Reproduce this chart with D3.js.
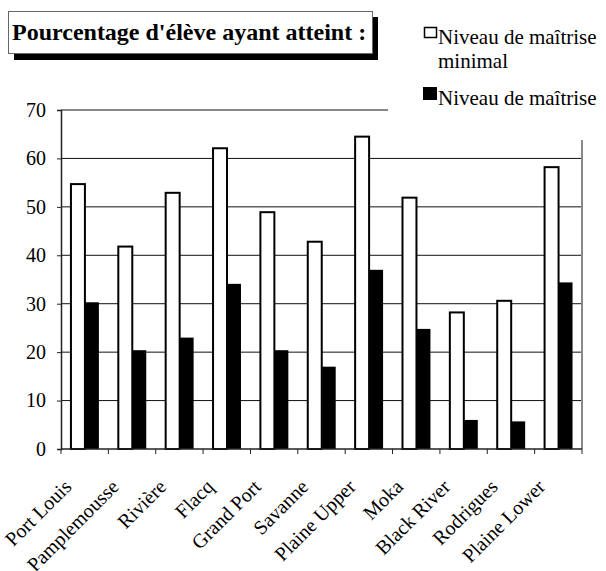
<!DOCTYPE html>
<html>
<head>
<meta charset="utf-8">
<title>Pourcentage d'élève ayant atteint</title>
<script src="https://cdn.jsdelivr.net/npm/d3@7"></script>
<style>
  body { margin: 0; background: #fff; }
</style>
</head>
<body>
<script>
// data
var districts = ["Port Louis", "Pamplemousse", "Rivière", "Flacq", "Grand Port", "Savanne",
                 "Plaine Upper", "Moka", "Black River", "Rodrigues", "Plaine Lower"];
var minimal = [54.7, 41.8, 52.9, 62.1, 48.9, 42.8, 64.5, 51.9, 28.2, 30.6, 58.2];
var maitrise = [30.3, 20.4, 23.0, 34.1, 20.4, 17.0, 37.0, 24.8, 6.0, 5.7, 34.4];
var yTicks = [0, 10, 20, 30, 40, 50, 60, 70];
var seriesNames = ["Niveau de maîtrise minimal", "Niveau de maîtrise"];

var W = 606, H = 571;
// single family name only
var serif = "'Liberation Serif'";
// plot area (named so they don't clash with window.top)
var plotL = 61, plotR = 582, plotT = 110, plotB = 449;

// put the serif font on a text, both as attribute and inline style
function serifText(sel, size) {
  return sel.attr("font-family", "Liberation Serif")
    .attr("font-size", size)
    .style("font-family", serif)
    .style("font-size", size + "px");
}

var svg = d3.select("body").append("svg")
  .attr("width", W)
  .attr("height", H);

var x = d3.scaleBand().domain(districts).range([plotL, plotR]).padding(0);
var sub = d3.scaleBand().domain([0, 1])
  .range([x.bandwidth() * 0.21, x.bandwidth() * 0.8]).padding(0);
var y = d3.scaleLinear().domain([0, 70]).range([plotB, plotT]);

// gridlines
svg.append("g")
  .selectAll("line")
  .data(yTicks.filter(function(d){ return d > 0 && d < 70; }))
  .join("line")
    .attr("x1", plotL).attr("x2", plotR)
    .attr("y1", function(d){ return y(d); })
    .attr("y2", function(d){ return y(d); })
    .attr("stroke", "#111")
    .attr("stroke-width", 1);

// plot frame (top + right), gray
svg.append("line")
  .attr("x1", plotL).attr("x2", plotR)
  .attr("y1", y(70)).attr("y2", y(70))
  .attr("stroke", "#888").attr("stroke-width", 2);
svg.append("line")
  .attr("x1", plotR).attr("x2", plotR)
  .attr("y1", y(70)).attr("y2", y(0))
  .attr("stroke", "#888").attr("stroke-width", 2);

// bars
var groups = svg.append("g")
  .selectAll("g")
  .data(districts)
  .join("g")
    .attr("transform", function(d){ return "translate(" + x(d) + ",0)"; });

groups.append("rect")
  .attr("x", sub(0))
  .attr("width", sub.bandwidth())
  .attr("y", function(d, i){ return y(minimal[i]); })
  .attr("height", function(d, i){ return y(0) - y(minimal[i]); })
  .attr("fill", "#fff")
  .attr("stroke", "#000")
  .attr("stroke-width", 2);

groups.append("rect")
  .attr("x", sub(1))
  .attr("width", sub.bandwidth())
  .attr("y", function(d, i){ return y(maitrise[i]); })
  .attr("height", function(d, i){ return y(0) - y(maitrise[i]); })
  .attr("fill", "#000");

// y axis
var yAxis = svg.append("g")
  .attr("transform", "translate(" + plotL + ",0)")
  .call(d3.axisLeft(y).tickValues(yTicks).tickSize(4).tickPadding(11));
yAxis.attr("font-family", "Liberation Serif").attr("font-size", 20);
yAxis.select(".domain").attr("stroke", "#222").attr("stroke-width", 1.5);
yAxis.selectAll(".tick line").attr("stroke", "#222");
serifText(yAxis.selectAll("text"), 20).attr("fill", "#000");

// x axis: ticks at category boundaries
var xAxis = svg.append("g")
  .attr("transform", "translate(0," + plotB + ")");
xAxis.append("line")
  .attr("x1", plotL).attr("x2", plotR)
  .attr("stroke", "#222").attr("stroke-width", 1.5);
xAxis.selectAll(".bt")
  .data(districts.concat(["end"]))
  .join("line")
    .attr("class", "bt")
    .attr("x1", function(d, i){ return plotL + i * x.step(); })
    .attr("x2", function(d, i){ return plotL + i * x.step(); })
    .attr("y1", 0).attr("y2", 5)
    .attr("stroke", "#222");

serifText(xAxis.selectAll(".lab")
  .data(districts)
  .join("text")
    .attr("class", "lab")
    .attr("text-anchor", "end")
    .attr("transform", function(d){
      return "translate(" + (x(d) + x.bandwidth() / 2 - 12) + ",39) rotate(-45)";
    })
    .text(function(d){ return d; }), 20);

// legend (white background hides top-right of frame)
var legend = svg.append("g");
legend.append("rect")
  .attr("x", 388).attr("y", 0)
  .attr("width", W - 388).attr("height", 140)
  .attr("fill", "#fff");
legend.append("rect")
  .attr("x", 424.5).attr("y", 27.5).attr("width", 12).attr("height", 10)
  .attr("fill", "#fff").attr("stroke", "#000").attr("stroke-width", 1.5);
serifText(legend.append("text").attr("x", 438).attr("y", 44), 21)
  .text("Niveau de maîtrise");
serifText(legend.append("text").attr("x", 438).attr("y", 68), 21)
  .text("minimal");
legend.append("rect")
  .attr("x", 423).attr("y", 87).attr("width", 14).attr("height", 13)
  .attr("fill", "#000");
serifText(legend.append("text").attr("x", 438).attr("y", 105), 21)
  .text(seriesNames[1]);

// title box with drop shadow
var title = svg.append("g");
title.append("rect")
  .attr("x", 14).attr("y", 17).attr("width", 364).attr("height", 43)
  .attr("fill", "#000");
title.append("rect")
  .attr("x", 8.5).attr("y", 11.5).attr("width", 364).attr("height", 42)
  .attr("fill", "#fff").attr("stroke", "#666").attr("stroke-width", 1);
serifText(title.append("text").attr("x", 12).attr("y", 40), 24)
  .attr("font-weight", "bold")
  .style("font-weight", "bold")
  .text("Pourcentage d'élève ayant atteint :");
</script>
</body>
</html>
